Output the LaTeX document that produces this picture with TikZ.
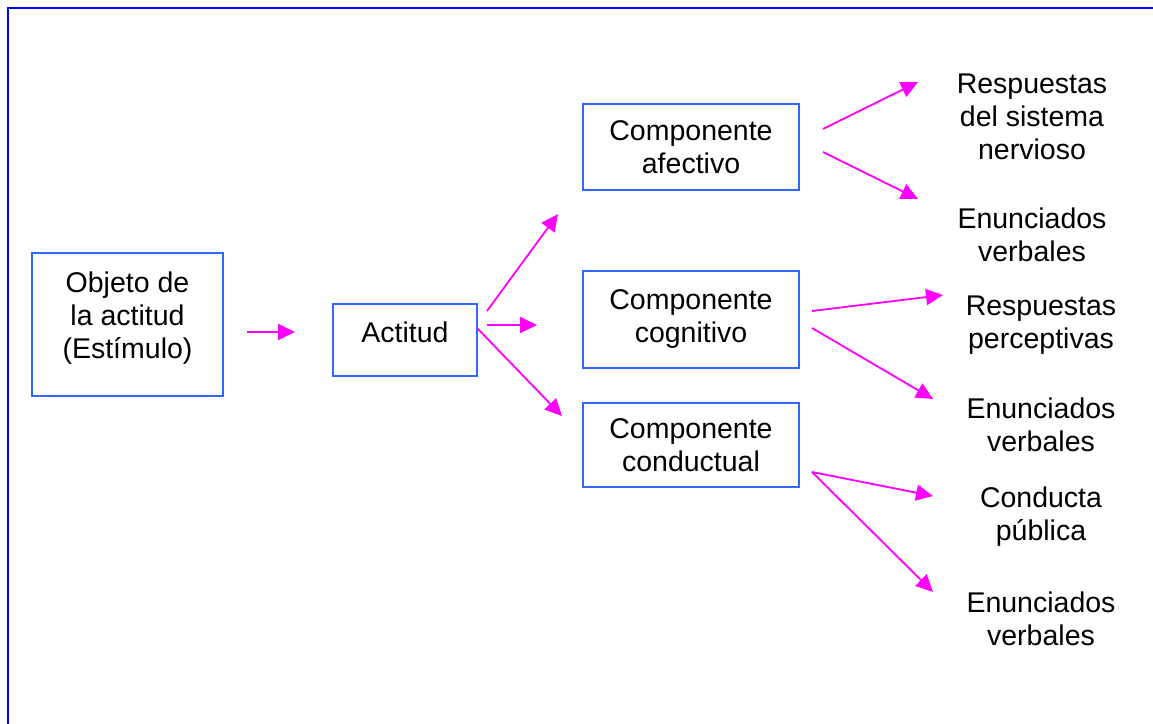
\documentclass[tikz,border=0pt]{standalone}
\usepackage{fontspec}
\setmainfont{Liberation Sans}
\usetikzlibrary{arrows.meta}
\definecolor{marco}{RGB}{0,0,255}
\definecolor{caja}{RGB}{51,102,255}
\definecolor{flecha}{RGB}{255,0,255}
\tikzstyle{arrow} = [
    line width=1.8pt,
    draw=flecha,
    -{Triangle[length=17pt,width=16pt]}
]
\tikzstyle{comp} = [
    rectangle,
    draw=caja,
    line width=1.5pt,
    align=center,
    inner sep=0pt,
    font=\fontsize{28.5}{33}\selectfont
]
\tikzstyle{resp} = [
    align=center,
    inner sep=0pt,
    font=\fontsize{28.5}{33}\selectfont
]

\begin{document}
\begin{tikzpicture}[x=1pt,y=-1pt]
    \useasboundingbox (0,0) rectangle (1153,723);
    \draw[marco, line width=2pt] (1160,7.5) -- (7.5,7.5) -- (7.5,730);
    % cajas
    \node[comp, minimum width=191pt, minimum height=143pt] (obj) at (127.5,324.5)
        {\raisebox{6pt}[\height][\depth]{\begin{tabular}{@{}c@{}}Objeto de\\la actitud\\(Estímulo)\end{tabular}}};
    \node[comp, minimum width=144pt, minimum height=72pt, text height=14pt, text depth=10pt] (act) at (405,340) {Actitud};
    \node[comp, minimum width=216pt, minimum height=86pt] (afe) at (691,147) {Componente\\afectivo};
    \node[comp, minimum width=216pt, minimum height=97pt] (cog) at (691,319.5) {Componente\\cognitivo};
    \node[comp, minimum width=216pt, minimum height=84pt] (con) at (691,445) {Componente\\conductual};
    % respuestas
    \node[resp] (r1) at (1032,117) {Respuestas\\del sistema\\nervioso};
    \node[resp] (r2) at (1032,235) {Enunciados\\verbales};
    \node[resp] (r3) at (1041,325.5) {Respuestas\\perceptivas};
    \node[resp] (r4) at (1041,425) {Enunciados\\verbales};
    \node[resp] (r5) at (1041,516.5) {Conducta\\pública};
    \node[resp] (r6) at (1041,618.5) {Enunciados\\verbales};
    % extremos de las flechas
    \coordinate (o1) at (247,332);
    \coordinate (o2) at (295,332);
    \coordinate (a1) at (487,311);
    \coordinate (a2) at (558,214);
    \coordinate (a3) at (487,325);
    \coordinate (a4) at (537,325);
    \coordinate (a5) at (477,328);
    \coordinate (a6) at (562,416);
    \coordinate (f1) at (823,129);
    \coordinate (f2) at (918,82);
    \coordinate (f3) at (823,152);
    \coordinate (f4) at (918,199);
    \coordinate (c1) at (812,311);
    \coordinate (c2) at (943,295);
    \coordinate (c3) at (812,328);
    \coordinate (c4) at (933,399);
    \coordinate (d1) at (812,472);
    \coordinate (d2) at (933,496);
    \coordinate (d3) at (933,592);
    % flechas
    \draw[arrow] (o1) -- (o2);
    \draw[arrow] (a1) -- (a2);
    \draw[arrow] (a3) -- (a4);
    \draw[arrow] (a5) -- (a6);
    \draw[arrow] (f1) -- (f2);
    \draw[arrow] (f3) -- (f4);
    \draw[arrow] (c1) -- (c2);
    \draw[arrow] (c3) -- (c4);
    \draw[arrow] (d1) -- (d2);
    \draw[arrow] (d1) -- (d3);
\end{tikzpicture}
\end{document}
